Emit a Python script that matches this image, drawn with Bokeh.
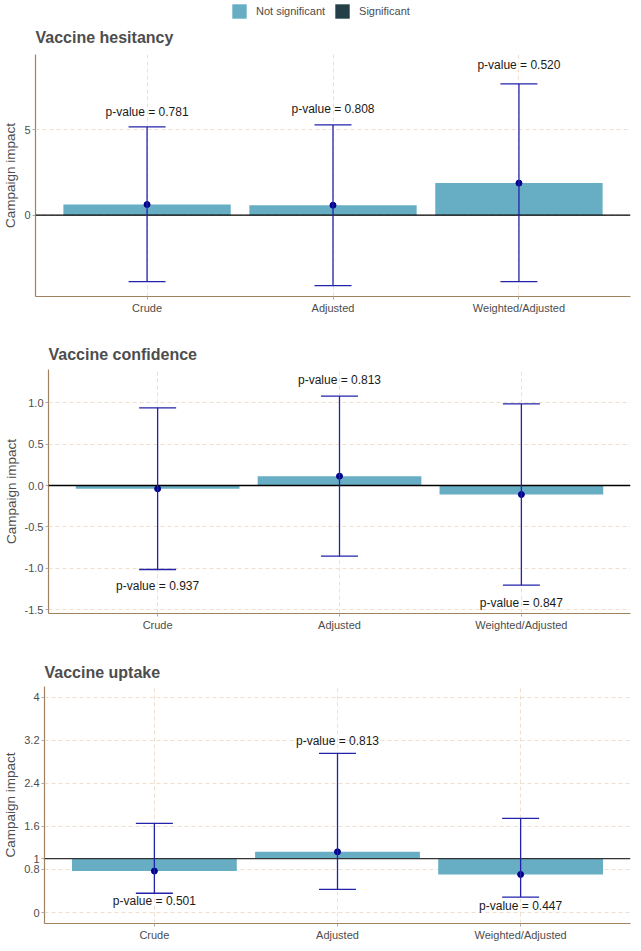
from bokeh.plotting import figure
from bokeh.models import (Range1d, FixedTicker, Span, Whisker, TeeHead, ColumnDataSource)
from bokeh.core.properties import value
from bokeh.embed import file_html
from bokeh.resources import INLINE

categories = ["Crude", "Adjusted", "Weighted/Adjusted"]

hes_est = [0.62, 0.58, 1.87]
hes_lo = [-3.88, -4.11, -3.88]
hes_hi = [5.15, 5.27, 7.66]
hes_p = [0.781, 0.808, 0.520]
hes_label_y = [6.02, 6.18, 8.76]
hes_ticks = [-5, 0, 5, 10]
hes_tick_labels = ["-5", "0", "5", "10"]

conf_est = [-0.04, 0.113, -0.109]
conf_lo = [-1.016, -0.855, -1.206]
conf_hi = [0.94, 1.08, 0.987]
conf_p = [0.937, 0.813, 0.847]
conf_label_y = [-1.218, 1.27, -1.427]
conf_ticks = [-1.5, -1.0, -0.5, 0.0, 0.5, 1.0]
conf_tick_labels = ["-1.5", "-1.0", "-0.5", "0.0", "0.5", "1.0"]

upt_est = [0.77, 1.128, 0.707]
upt_lo = [0.359, 0.43, 0.287]
upt_hi = [1.657, 2.957, 1.747]
upt_p = [0.501, 0.813, 0.447]
upt_label_y = [0.22, 3.19, 0.13]
upt_ticks = [0, 0.8, 1, 1.6, 2.4, 3.2, 4]
upt_tick_labels = ["0", "0.8", "1", "1.6", "2.4", "3.2", "4"]

legend_labels = ["Not significant", "Significant"]

FONT = "Liberation Sans"
BAR_NS = "#67AEC4"
BAR_S = "#243F47"
legend_colors = [BAR_NS, BAR_S]
ERR = "#2222AA"
PT = "#00008B"
GRID = "#EEDFCF"
AXIS = "#A0825F"
TXT = "#4D4D4D"

xs = list(range(1, len(categories) + 1))


def panel(title, est, lo, hi, pv, ly, yr, ticks, tick_labels, base, width, height,
          top, bottom, left, right, tpad, line_color="black"):
    p = figure(width=width, height=height, output_backend="svg", toolbar_location=None,
               x_range=Range1d(0.4, len(categories) + 0.6), y_range=Range1d(*yr),
               min_border_top=top, min_border_bottom=bottom, min_border_left=left,
               min_border_right=right, title=title)
    p.outline_line_color = None
    p.title.text_font = FONT
    p.title.text_font_size = "16px"
    p.title.text_font_style = "bold"
    p.title.text_color = TXT
    p.title.offset = 0
    p.title.standoff = 8
    p.title.padding = (0, 0, 0, tpad)
    sig = ["Significant" if v < 0.05 else "Not significant" for v in pv]
    colors = [BAR_S if s == "Significant" else BAR_NS for s in sig]
    src = ColumnDataSource(dict(x=xs, est=est, lo=lo, hi=hi, base=[base] * len(xs),
                                ly=ly, lab=["p-value = %.3f" % v for v in pv], color=colors))
    p.vbar(x="x", width=0.9, top="est", bottom="base", source=src,
           fill_color="color", line_color=None)
    p.add_layout(Span(location=base, dimension="width", line_color=line_color, line_width=1.3))
    w = Whisker(base="x", lower="lo", upper="hi", source=src, line_color=ERR, line_width=1.3,
                lower_head=TeeHead(size=37, line_color=ERR, line_width=1.3),
                upper_head=TeeHead(size=37, line_color=ERR, line_width=1.3))
    w.level = "overlay"
    p.add_layout(w)
    p.scatter(x="x", y="est", source=src, size=6, fill_color=PT, line_color=PT)
    p.text(x="x", y="ly", text="lab", source=src, text_align="center",
           text_baseline="middle", text_font=value(FONT), text_font_size="12px",
           text_color="#1A1A1A")

    p.xaxis.ticker = FixedTicker(ticks=xs)
    p.xaxis.major_label_overrides = {x: c for x, c in zip(xs, categories)}
    p.yaxis.ticker = FixedTicker(ticks=ticks)
    p.yaxis.major_label_overrides = {t: l for t, l in zip(ticks, tick_labels)}
    p.yaxis.axis_label = "Campaign impact"
    for ax in (p.xaxis, p.yaxis):
        ax.axis_line_color = AXIS
        ax.axis_line_width = 1.2
        ax.major_tick_line_color = "#AAAAAA"
        ax.major_tick_out = 3
        ax.major_tick_in = 0
        ax.minor_tick_line_color = None
        ax.major_label_standoff = 2
        ax.major_label_text_font = FONT
        ax.major_label_text_font_size = "11px"
        ax.major_label_text_color = TXT
        ax.axis_label_text_font = FONT
        ax.axis_label_text_font_size = "13.5px"
        ax.axis_label_text_font_style = "normal"
        ax.axis_label_text_color = TXT
        ax.axis_label_standoff = 3
    for g in (p.xgrid, p.ygrid):
        g.grid_line_color = GRID
        g.grid_line_dash = "4 3"
        g.grid_line_width = 1
    return p


# legend strip
pl = figure(width=633, height=22, output_backend="svg", toolbar_location=None,
            x_axis_type=None, y_axis_type=None, min_border=0,
            x_range=Range1d(0, 1), y_range=Range1d(0, 1))
pl.outline_line_color = None
pl.grid.visible = False
lsrc = ColumnDataSource(dict(x=[0.5] * len(legend_labels), h=[0] * len(legend_labels),
                             label=legend_labels, color=legend_colors))
pl.vbar(x="x", width=0, top="h", bottom="h", source=lsrc, fill_color="color",
        line_color=None, legend_field="label")
lg = pl.legend[0]
lg.orientation = "horizontal"
lg.location = (230, 2)
lg.glyph_width = 18
lg.glyph_height = 18
lg.label_standoff = 8
lg.spacing = 8
lg.padding = 0
lg.margin = 0
lg.border_line_color = None
lg.background_fill_alpha = 0
lg.label_text_font = FONT
lg.label_text_font_size = "11px"
lg.label_text_color = TXT
lg.label_height = 18

p1 = panel("Vaccine hesitancy", hes_est, hes_lo, hes_hi, hes_p, hes_label_y, (-4.75, 9.38),
           hes_ticks, hes_tick_labels, 0, 633, 296, 30, 22, 27, 3, 5)
p2 = panel("Vaccine confidence", conf_est, conf_lo, conf_hi, conf_p, conf_label_y,
           (-1.548, 1.403), conf_ticks, conf_tick_labels, 0, 633, 317, 51, 22, 40, 3, 3)
p3 = panel("Vaccine uptake", upt_est, upt_lo, upt_hi, upt_p, upt_label_y, (-0.203, 4.197),
           upt_ticks, upt_tick_labels, 1, 633, 308, 51, 18, 36, 3, 2, line_color="#333333")

open("out.html", "w").write(file_html([pl, p1, p2, p3], INLINE))
